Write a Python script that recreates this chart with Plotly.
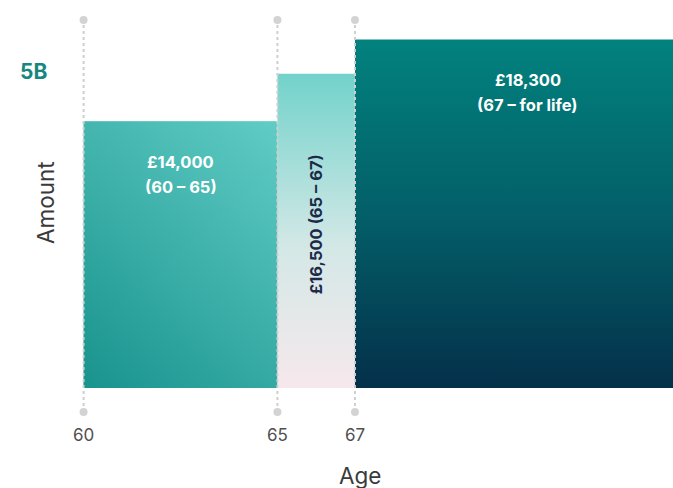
import plotly.graph_objects as go

# Data
seg_start = [60, 65, 67]
seg_end = [65, 67, 76]
amounts = [14000, 16500, 18300]
seg_labels = ["£14,000<br>(60 – 65)", "£16,500 (65 – 67)", "£18,300<br>(67 – for life)"]
tick_vals = [60, 65, 67]
tick_text = ["60", "65", "67"]

FONT = "Inter, 'Open Sans', sans-serif"

# gradient layers per bar: list of (gradient, opacity)
layers = [
    [
        (dict(type="vertical", colorscale=[[0, "rgb(17,140,135)"], [1, "rgb(105,212,204)"]]), 1.0),
        (dict(type="horizontal", colorscale=[[0, "rgb(33,154,148)"], [1, "rgb(89,198,192)"]]), 0.5),
    ],
    [
        (dict(type="vertical", colorscale=[[0, "#f6e8ec"], [0.45, "#d3e8e6"], [1, "#72d2cb"]]), 1.0),
    ],
    [
        (dict(type="vertical", colorscale=[[0, "#04304a"], [0.5, "#035f69"], [1, "#02827e"]]), 1.0),
    ],
]

fig = go.Figure()

for i in range(3):
    x0, x1, h = seg_start[i], seg_end[i], amounts[i]
    for grad, op in layers[i]:
        fig.add_trace(go.Scatter(
            x=[x0, x1, x1, x0, x0], y=[0, 0, h, h, 0],
            mode="lines", line=dict(width=0), fill="toself",
            fillgradient=grad, opacity=op, hoverinfo="skip", showlegend=False,
        ))

# dotted guide lines
y_top = 19318
y_bot = -1260
for xv in tick_vals:
    fig.add_trace(go.Scatter(
        x=[xv, xv], y=[y_bot, y_top], mode="lines+markers",
        line=dict(color="#cfcfcf", width=2, dash="dot"),
        marker=dict(color="#d3d3d3", size=8),
        cliponaxis=False, hoverinfo="skip", showlegend=False,
    ))

# bar labels (two-line labels drawn line by line below the bar top)
label_x = [(seg_start[0] + seg_end[0]) / 2, None, 71.46]
for i in (0, 2):
    lines = seg_labels[i].split("<br>")
    for j, ln in enumerate(lines):
        fig.add_annotation(x=label_x[i], y=amounts[i], yshift=-41 - 24.5 * j,
                           text="<b>" + ln + "</b>", showarrow=False,
                           font=dict(family=FONT, size=16.5, color="white"),
                           xanchor="center", yanchor="middle")
fig.add_annotation(x=(seg_start[1] + seg_end[1]) / 2, y=8600,
                   text="<b>" + seg_labels[1] + "</b>", showarrow=False, textangle=-90,
                   font=dict(family=FONT, size=16.5, color="#1d2a4a"), xanchor="center", yanchor="middle")

# titles
fig.add_annotation(xref="paper", yref="paper", x=33 / 673, y=1 - 71 / 412,
                   text="<b>5B</b>", showarrow=False,
                   font=dict(family=FONT, size=21, color="#16877f"), xanchor="center", yanchor="middle")
fig.add_annotation(xref="paper", yref="paper", x=45 / 673, y=1 - 203 / 412,
                   text="Amount", showarrow=False, textangle=-90,
                   font=dict(family=FONT, size=22.5, color="#3a3a3a"), xanchor="center", yanchor="middle")
fig.add_annotation(xref="paper", yref="paper", x=360 / 673, y=1 - 475 / 412,
                   text="Age", showarrow=False,
                   font=dict(family=FONT, size=22.5, color="#3a3a3a"), xanchor="center", yanchor="middle")

fig.update_layout(
    width=673, height=488,
    margin=dict(l=0, r=0, t=0, b=76),
    paper_bgcolor="white", plot_bgcolor="white",
    xaxis=dict(range=[57.844, 75.203], tickvals=tick_vals, ticktext=tick_text,
               showgrid=False, zeroline=False, showline=False, ticks="",
               ticklabelstandoff=11,
               tickfont=dict(family=FONT, size=17, color="#505050"), fixedrange=True),
    yaxis=dict(range=[-1260, 20367], showticklabels=False, showgrid=False,
               zeroline=False, showline=False, fixedrange=True),
    showlegend=False,
)

fig.write_html("out.html")
